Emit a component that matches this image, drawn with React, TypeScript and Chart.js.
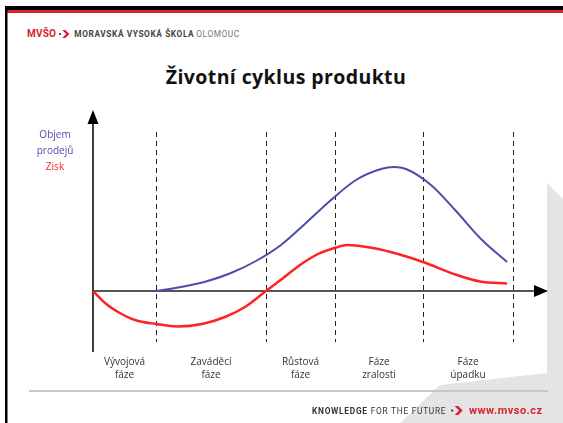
import React, { useEffect, useRef } from "react";
import { Chart, registerables } from "chart.js";

Chart.register(...registerables);

// ---- data ----
const phaseLabels: string[][] = [
  ["Vývojová", "fáze"],
  ["Zaváděcí", "fáze"],
  ["Růstová", "fáze"],
  ["Fáze", "zralosti"],
  ["Fáze", "úpadku"],
];
const phaseBoundaries = [0, 63, 173, 242, 330, 420];

const salesX = [63, 88, 113, 138, 163, 188, 213, 238, 263, 288, 301, 313, 338, 363, 388, 414];
const salesY = [0, 4, 9.5, 18, 30, 46, 68, 91, 111, 122, 124, 122, 106, 80, 52, 29];

const profitX = [0, 12, 25, 42, 63, 85, 109, 132, 152, 173, 189, 207, 225, 243, 254, 280, 305, 330, 364, 387, 414];
const profitY = [0, -12, -21, -29, -33, -35.5, -33, -26, -16, 0, 12, 26, 37, 43.5, 46, 43, 37, 29, 16, 9.5, 7.5];

const axisLegend = ["Objem", "prodejů", "Zisk"];

const X_MAX = 455;
const Y_MIN = -60;
const Y_MAX = 180;

const BLUE = "#4c4cab";
const RED = "#ff2222";
const FONT = "'Open Sans', sans-serif";

const decorPlugin = {
  id: "decor",
  beforeDatasetsDraw(chart: any) {
    const { ctx, scales, chartArea } = chart;
    const xs = scales.x;
    const ys = scales.y;
    ctx.save();
    ctx.strokeStyle = "#222";
    ctx.lineWidth = 1;
    ctx.setLineDash([5, 4]);
    for (let i = 1; i < phaseBoundaries.length; i++) {
      const px = Math.round(xs.getPixelForValue(phaseBoundaries[i])) + 0.5;
      ctx.beginPath();
      ctx.moveTo(px, ys.getPixelForValue(159));
      ctx.lineTo(px, ys.getPixelForValue(-51));
      ctx.stroke();
    }
    ctx.setLineDash([]);
    const y0 = ys.getPixelForValue(0);
    const xl = xs.getPixelForValue(0);
    const xr = xs.getPixelForValue(X_MAX);
    ctx.strokeStyle = "#555";
    ctx.lineWidth = 2;
    ctx.beginPath();
    ctx.moveTo(xl, y0);
    ctx.lineTo(xr - 8, y0);
    ctx.stroke();
    ctx.fillStyle = "#000";
    ctx.beginPath();
    ctx.moveTo(xr, y0);
    ctx.lineTo(xr - 14, y0 - 6);
    ctx.lineTo(xr - 14, y0 + 6);
    ctx.closePath();
    ctx.fill();
    const yt = chartArea.top;
    ctx.strokeStyle = "#000";
    ctx.lineWidth = 1.5;
    ctx.beginPath();
    ctx.moveTo(xl, ys.getPixelForValue(Y_MIN) + 1);
    ctx.lineTo(xl, yt + 8);
    ctx.stroke();
    ctx.beginPath();
    ctx.moveTo(xl, yt - 1);
    ctx.lineTo(xl - 5.5, yt + 13);
    ctx.lineTo(xl + 5.5, yt + 13);
    ctx.closePath();
    ctx.fill();
    ctx.restore();
  },
  afterDraw(chart: any) {
    const { ctx, scales, chartArea } = chart;
    const xs = scales.x;
    ctx.save();
    ctx.font = `10px ${FONT}`;
    ctx.textAlign = "center";
    ctx.textBaseline = "middle";
    ctx.fillStyle = "#333";
    for (let i = 0; i < phaseLabels.length; i++) {
      const mid = (phaseBoundaries[i] + phaseBoundaries[i + 1]) / 2;
      const px = xs.getPixelForValue(mid);
      phaseLabels[i].forEach((t, j) => {
        ctx.fillText(t, px, chartArea.bottom + 11 + j * 13);
      });
    }
    const lx = chartArea.left - 38;
    const colors = [BLUE, BLUE, RED];
    axisLegend.forEach((t, j) => {
      ctx.fillStyle = colors[j];
      ctx.fillText(t, lx, chartArea.top + 24 + j * 16);
    });
    ctx.restore();
  },
};

function Chevron({ color, size, ml, mr }: { color: string; size: number; ml: number; mr: number }) {
  return (
    <svg width={size * 1.4} height={size} viewBox="0 0 14 10" style={{ verticalAlign: "middle", marginLeft: ml, marginRight: mr }}>
      <rect x="0" y="3.8" width="2.5" height="2.5" fill="#555" />
      <polygon points="4,0 8,0 13,5 8,10 4,10 9,5" fill={color} />
    </svg>
  );
}

export default function App() {
  const ref = useRef<HTMLCanvasElement>(null);
  useEffect(() => {
    if (!ref.current) return;
    const chart = new Chart(ref.current, {
      type: "line",
      data: {
        datasets: [
          {
            label: "Objem prodejů",
            data: salesX.map((x, i) => ({ x, y: salesY[i] })),
            borderColor: BLUE,
            borderWidth: 2,
            pointRadius: 0,
            cubicInterpolationMode: "monotone",
          },
          {
            label: "Zisk",
            data: profitX.map((x, i) => ({ x, y: profitY[i] })),
            borderColor: RED,
            borderWidth: 2.5,
            pointRadius: 0,
            cubicInterpolationMode: "monotone",
          },
        ],
      },
      options: {
        responsive: false,
        animation: false,
        layout: { padding: { left: 93, right: 15, top: 111, bottom: 72 } },
        plugins: { legend: { display: false }, tooltip: { enabled: false }, title: { display: false } },
        scales: {
          x: { type: "linear", min: 0, max: X_MAX, display: false },
          y: { type: "linear", min: Y_MIN, max: Y_MAX, display: false },
        },
      },
      plugins: [decorPlugin],
    });
    return () => chart.destroy();
  }, []);

  return (
    <div
      style={{
        position: "fixed",
        left: 0,
        top: 0,
        width: 563,
        height: 423,
        background: "#fff",
        overflow: "hidden",
        fontFamily: FONT,
      }}
    >
      <svg width={563} height={423} style={{ position: "absolute", left: 0, top: 0 }}>
        <polygon points="547,183 600,236 600,423 400,423 440,385 547,373" fill="#e4e4e4" />
        <rect x={29} y={390} width={519} height={2} fill="#c8c8c8" />
        <rect x={5} y={6} width={558} height={4} fill="#000" />
        <rect x={5} y={10} width={558} height={3} fill="#d9222e" />
        <rect x={5} y={6} width={2.5} height={417} fill="#000" />
      </svg>
      <div
        style={{
          position: "absolute",
          left: 27,
          top: 28,
          fontFamily: "'Roboto', sans-serif",
          fontSize: 8.3,
          fontWeight: 700,
          letterSpacing: 0.6,
          color: "#444",
          whiteSpace: "nowrap",
          display: "flex",
          alignItems: "center",
        }}
      >
        <span style={{ color: "#d9222e", fontSize: 10, letterSpacing: 0.2 }}>MVŠO</span>
        <Chevron color="#d9222e" size={8} ml={3} mr={4} />
        <span>MORAVSKÁ VYSOKÁ ŠKOLA</span>
        <span style={{ fontWeight: 400, color: "#777", marginLeft: 2 }}>OLOMOUC</span>
      </div>
      <div
        style={{
          position: "absolute",
          left: 0,
          width: 572,
          top: 63,
          textAlign: "center",
          fontSize: 19.5,
          letterSpacing: 0.4,
          fontWeight: 700,
          color: "#111",
        }}
      >
        Životní cyklus produktu
      </div>
      <canvas ref={ref} width={563} height={423} style={{ position: "absolute", left: 0, top: 0, width: 563, height: 423 }} />
      <div
        style={{
          position: "absolute",
          left: 312,
          top: 404,
          fontFamily: "'Roboto', sans-serif",
          fontSize: 8.3,
          letterSpacing: 0.75,
          color: "#333",
          whiteSpace: "nowrap",
          display: "flex",
          alignItems: "center",
        }}
      >
        <span style={{ fontWeight: 700 }}>KNOWLEDGE</span>
        <span style={{ marginLeft: 3 }}>FOR THE FUTURE</span>
        <Chevron color="#d9222e" size={9} ml={5} mr={5} />
        <span style={{ color: "#d9222e", fontWeight: 700, fontSize: 11, letterSpacing: 0.5 }}>www.mvso.cz</span>
      </div>
    </div>
  );
}
